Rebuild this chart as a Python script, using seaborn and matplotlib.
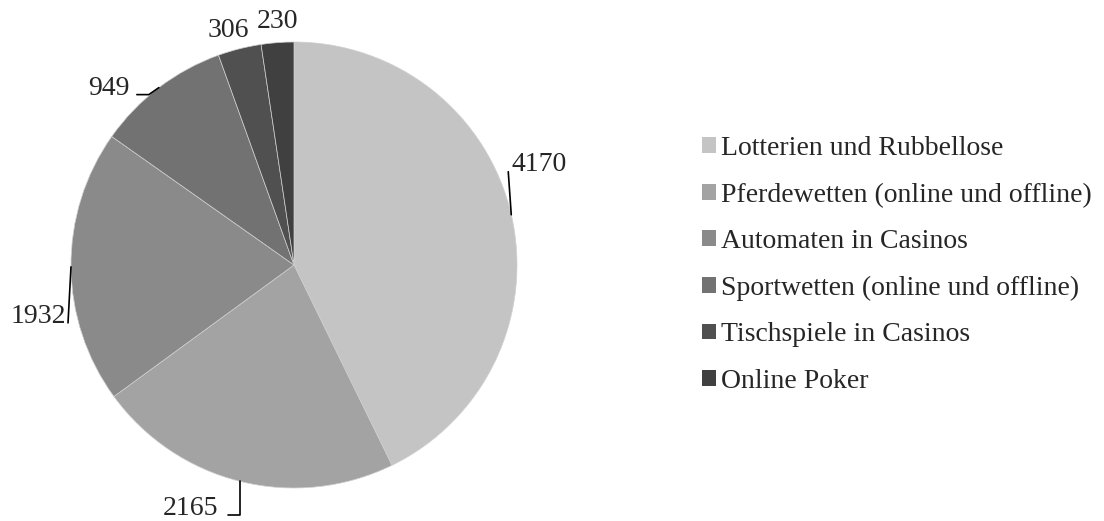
import matplotlib
matplotlib.use("Agg")
import numpy as np
import matplotlib.pyplot as plt
import seaborn as sns

# data
categories = ["Lotterien und Rubbellose", "Pferdewetten (online und offline)",
              "Automaten in Casinos", "Sportwetten (online und offline)",
              "Tischspiele in Casinos", "Online Poker"]
values = [4170, 2165, 1932, 949, 306, 230]
colors = ["#c4c4c4", "#a3a3a3", "#8a8a8a", "#727272", "#505050", "#404040"]

# layout of the outside labels (pixel offsets from the wedge edge)
text_off = [(28, 50), (-50, -27), (-33, -50), (-50, -1), (-11, 18), (0, 21)]
leader_off = [(-3, 43), (-12, -34), (-3, -56), (-22, -7), None, None]
leader_style = ["arc3", "angle,angleA=0,angleB=90,rad=0", "arc3",
                "angle,angleA=0,angleB=35,rad=0", None, None]

sns.set_style("white")
plt.rcParams["font.family"] = ["Liberation Serif", "DejaVu Serif"]

fig = plt.figure(figsize=(11.04, 5.21), dpi=100)
W, H = 1104, 521
cx, cy, r = 294, 265, 223
ax = fig.add_axes([(cx - r) / W, (H - cy - r) / H, 2 * r / W, 2 * r / H])

wedges, _ = ax.pie(values, colors=colors, startangle=90, counterclock=False,
                   radius=1, wedgeprops=dict(edgecolor="#d0d0d0", linewidth=0.5))
ax.set_xlim(-1, 1)
ax.set_ylim(-1, 1)
ax.set_aspect("equal")
ax.axis("off")

for i, w in enumerate(wedges):
    mid = np.deg2rad((w.theta1 + w.theta2) / 2)
    edge = (np.cos(mid), np.sin(mid))
    if leader_off[i] is not None:
        ax.annotate("", xy=edge, xytext=leader_off[i], textcoords="offset pixels",
                    arrowprops=dict(arrowstyle="-", color="black", lw=1.2,
                                    shrinkA=0, shrinkB=0,
                                    connectionstyle=leader_style[i]),
                    annotation_clip=False)
    ax.annotate(str(values[i]), xy=edge, xytext=text_off[i],
                textcoords="offset pixels", ha="center", va="center",
                fontsize=20, annotation_clip=False)

leg = ax.legend(wedges, categories, loc="center left",
                bbox_to_anchor=(702 / W, 1 - 265 / H),
                bbox_transform=fig.transFigure, frameon=False, fontsize=20,
                handlelength=0.5, handleheight=0.5, handletextpad=0.2,
                labelspacing=0.775, borderpad=0, borderaxespad=0)
for h in leg.legend_handles:
    h.set_edgecolor("none")

fig.savefig("out.png", dpi=100)
